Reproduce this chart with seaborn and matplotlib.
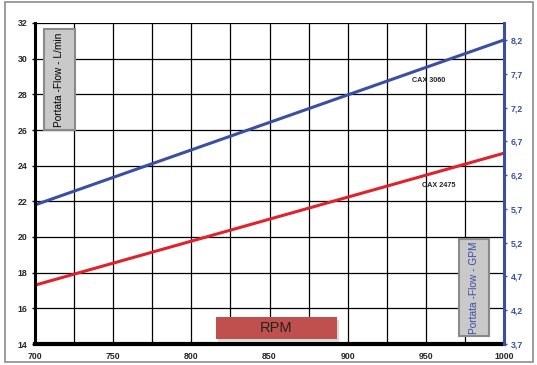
import numpy as np
import pandas as pd
import matplotlib
matplotlib.use("Agg")
import matplotlib.pyplot as plt
import seaborn as sns
from matplotlib.patches import Rectangle, FancyBboxPatch

rpm = [700, 1000]
cax_3060 = [21.8, 31.05]
cax_2475 = [17.3, 24.7]
series_names = ["CAX 3060", "CAX 2475"]
left_ticks = [14, 16, 18, 20, 22, 24, 26, 28, 30, 32]
right_ticks = [3.7, 4.2, 4.7, 5.2, 5.7, 6.2, 6.7, 7.2, 7.7, 8.2]
x_ticks = [700, 750, 800, 850, 900, 950, 1000]

df = pd.DataFrame({
    "RPM": rpm * 2,
    "Flow": cax_3060 + cax_2475,
    "Model": [series_names[0]] * len(rpm) + [series_names[1]] * len(rpm),
})

sns.set_style("white")
plt.rcParams['font.family'] = ['Liberation Sans', 'DejaVu Sans']

BLUE = "#3a4ea3"
RED = "#e1222b"

fig = plt.figure(figsize=(5.37, 3.65), dpi=100)
ax = fig.add_axes([35/537, 1-344/365, (504-35)/537, (344-23)/365])

sns.lineplot(data=df, x="RPM", y="Flow", hue="Model",
             palette={series_names[0]: BLUE, series_names[1]: RED},
             linewidth=2.2, ax=ax, legend=False)

ax.set_xlim(700, 1000)
ax.set_ylim(14, 32)
ax.set_xticks(x_ticks)
ax.set_xticks(np.arange(700, 1001, 25), minor=True)
ax.set_yticks(left_ticks)
ax.grid(True, which="both", color="black", linewidth=0.9)
ax.set_axisbelow(True)
ax.set_xlabel("")
ax.set_ylabel("")
ax.tick_params(axis="both", which="major", labelsize=6.3, length=2, width=1, color="black")
ax.tick_params(axis="x", which="minor", length=0)
for lab in ax.get_xticklabels() + ax.get_yticklabels():
    lab.set_fontweight("bold")
ax.set_xticklabels([str(v) for v in x_ticks])
ax.set_yticklabels([str(v) for v in left_ticks], fontweight="bold")
ax.set_xticklabels([str(v) for v in x_ticks], fontweight="bold")

for s in ["top"]:
    ax.spines[s].set_visible(False)
ax.spines["left"].set_linewidth(2.2)
ax.spines["left"].set_color("black")
ax.spines["bottom"].set_linewidth(3)
ax.spines["bottom"].set_color("black")
ax.spines["right"].set_visible(False)

ax2 = ax.twinx()
ax2.set_ylim(14/3.785, 32/3.785)
ax2.set_yticks(right_ticks)
ax2.set_yticklabels([f"{v:.1f}".replace(".", ",") for v in right_ticks],
                    color=BLUE, fontweight="bold", fontsize=6.3)
ax2.tick_params(axis="y", length=2, width=1, color=BLUE, pad=3)
ax2.spines["right"].set_color(BLUE)
ax2.spines["right"].set_linewidth(2.2)
for s in ["top", "left", "bottom"]:
    ax2.spines[s].set_visible(False)
ax2.grid(False)

# annotations
ax.text(952, 28.8, "CAX 3060", fontsize=5.2, fontweight="bold", ha="center", va="center", zorder=5)
ax.text(958, 22.86, "CAX 2475", fontsize=5.2, fontweight="bold", ha="center", va="center", zorder=5)

# boxes in figure pixel coords
def fig_box(x0, y0, x1, y1, fc, ec, lw=1.5):
    r = Rectangle((x0/537, 1-y1/365), (x1-x0)/537, (y1-y0)/365,
                  transform=fig.transFigure, facecolor=fc, edgecolor=ec,
                  linewidth=lw, zorder=10)
    fig.patches.append(r)

fig_box(44, 29, 75, 130, "#c9c9c9", "#8a8a8a")
fig.text(59.5/537, 1-79.5/365, "Portata -Flow - L/min", rotation=90,
         fontsize=7.3, ha="center", va="center", color="black", zorder=11)

fig_box(459, 239, 489, 336, "#c9c9c9", "#8a8a8a")
fig.text(474/537, 1-287.5/365, "Portata -Flow - GPM", rotation=90,
         fontsize=7.3, ha="center", va="center", color=BLUE, zorder=11)

# RPM box with shadow
fig_box(218, 320, 339, 342, "#d8d8d8", "none", lw=0)
fig_box(216, 317, 337, 339, "#c0504d", "none", lw=0)
fig.text(276.5/537, 1-328/365, "RPM", fontsize=10.5, ha="center", va="center",
         color="#222222", zorder=11)

# outer border
border = Rectangle((4.5/537, 1-362/365), (533-4.5)/537, (362-2)/365,
                   transform=fig.transFigure, facecolor="none",
                   edgecolor="#8c8c8c", linewidth=1.2, zorder=0)
fig.patches.append(border)

fig.savefig("out.png", dpi=100)
